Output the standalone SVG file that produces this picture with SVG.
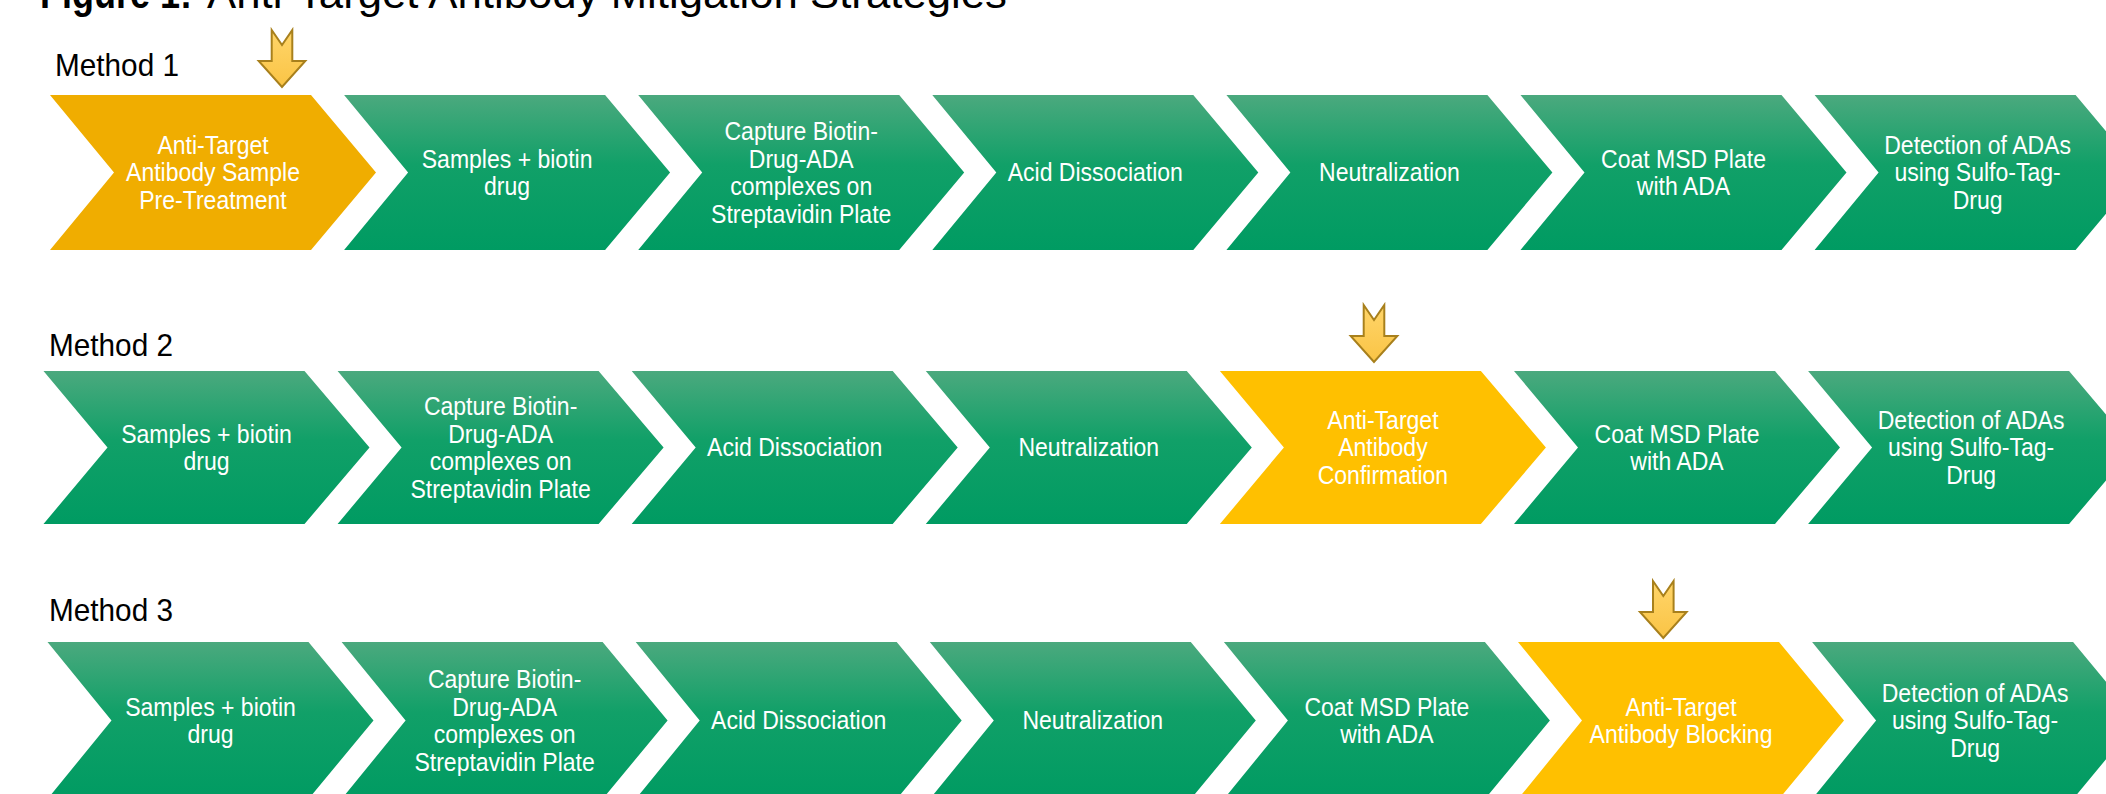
<svg xmlns="http://www.w3.org/2000/svg" xmlns:xlink="http://www.w3.org/1999/xlink" width="2106" height="794" viewBox="0 0 2106 794">
  <style>
    .title { font-family: "Liberation Sans", Arial, sans-serif; font-size: 43px; fill: #000; }
    .method { font-family: "Liberation Sans", Arial, sans-serif; font-size: 32px; fill: #000; }
    .lbl { font-family: "Liberation Sans", Arial, sans-serif; font-size: 26px; fill: #fff; text-anchor: middle; }
    .green { fill: url(#gGreen); }
    .amber { fill: #F0AD00; }
    .yellow { fill: #FFC000; }
    .ptr { fill: url(#gPtr); stroke: #A8801C; stroke-width: 2; stroke-linejoin: miter; }
  </style>
  <defs>
    <linearGradient id="gGreen" x1="0" y1="0" x2="0" y2="1">
      <stop offset="0" stop-color="#4BA97E"/>
      <stop offset="0.45" stop-color="#11A068"/>
      <stop offset="1" stop-color="#009B62"/>
    </linearGradient>
    <linearGradient id="gPtr" x1="0" y1="0" x2="0" y2="1">
      <stop offset="0" stop-color="#FFD56A"/>
      <stop offset="1" stop-color="#FAC445"/>
    </linearGradient>
    <!-- chevron outlines, one per row height -->
    <path id="chevA" d="M0,0 L261,0 L326,77.5 L261,155 L0,155 L64,77.5 Z"/>
    <path id="chevB" d="M0,0 L261,0 L326,76.5 L261,153 L0,153 L64,76.5 Z"/>
    <path id="chevC" d="M0,0 L261,0 L326,78.5 L261,157 L0,157 L64,78.5 Z"/>
    <!-- downward pointer with notched tail -->
    <path id="ptr" d="M-10.3,0 L0,15 L10.3,0 L10.3,31 L23.3,31 L0,57 L-23.3,31 L-10.3,31 Z"/>
  </defs>

  <rect width="2106" height="794" fill="#fff"/>

  <text class="title" x="40" y="8" font-weight="bold" textLength="152" lengthAdjust="spacingAndGlyphs">Figure 1:</text>
  <text class="title" x="207" y="8" textLength="800" lengthAdjust="spacingAndGlyphs">Anti-Target Antibody Mitigation Strategies</text>

  <text class="method" x="55" y="76" textLength="124" lengthAdjust="spacingAndGlyphs">Method 1</text>
  <text class="method" x="49" y="356" textLength="124" lengthAdjust="spacingAndGlyphs">Method 2</text>
  <text class="method" x="49" y="621" textLength="124" lengthAdjust="spacingAndGlyphs">Method 3</text>

  <!-- Method 1 -->
  <g id="m1-pretreat">
    <use xlink:href="#chevA" class="amber" x="50" y="95"/>
    <text class="lbl" transform="translate(213 0) scale(0.885 1)"><tspan x="0" y="154">Anti-Target</tspan><tspan x="0" y="181.5">Antibody Sample</tspan><tspan x="0" y="209">Pre-Treatment</tspan></text>
  </g>
  <g id="m1-samples">
    <use xlink:href="#chevA" class="green" x="344.1" y="95"/>
    <text class="lbl" transform="translate(507.1 0) scale(0.885 1)"><tspan x="0" y="167.75">Samples + biotin</tspan><tspan x="0" y="195.25">drug</tspan></text>
  </g>
  <g id="m1-capture">
    <use xlink:href="#chevA" class="green" x="638.2" y="95"/>
    <text class="lbl" transform="translate(801.2 0) scale(0.885 1)"><tspan x="0" y="140.25">Capture Biotin-</tspan><tspan x="0" y="167.75">Drug-ADA</tspan><tspan x="0" y="195.25">complexes on</tspan><tspan x="0" y="222.75">Streptavidin Plate</tspan></text>
  </g>
  <g id="m1-acid">
    <use xlink:href="#chevA" class="green" x="932.3" y="95"/>
    <text class="lbl" transform="translate(1095.3 0) scale(0.885 1)" x="0" y="181.5">Acid Dissociation</text>
  </g>
  <g id="m1-neutral">
    <use xlink:href="#chevA" class="green" x="1226.4" y="95"/>
    <text class="lbl" transform="translate(1389.4 0) scale(0.885 1)" x="0" y="181.5">Neutralization</text>
  </g>
  <g id="m1-coat">
    <use xlink:href="#chevA" class="green" x="1520.5" y="95"/>
    <text class="lbl" transform="translate(1683.5 0) scale(0.885 1)"><tspan x="0" y="167.75">Coat MSD Plate</tspan><tspan x="0" y="195.25">with ADA</tspan></text>
  </g>
  <g id="m1-detect">
    <use xlink:href="#chevA" class="green" x="1814.6" y="95"/>
    <text class="lbl" transform="translate(1977.6 0) scale(0.885 1)"><tspan x="0" y="154">Detection of ADAs</tspan><tspan x="0" y="181.5">using Sulfo-Tag-</tspan><tspan x="0" y="209">Drug</tspan></text>
  </g>

  <!-- Method 2 -->
  <g id="m2-samples">
    <use xlink:href="#chevB" class="green" x="43.5" y="371"/>
    <text class="lbl" transform="translate(206.5 0) scale(0.885 1)"><tspan x="0" y="442.75">Samples + biotin</tspan><tspan x="0" y="470.25">drug</tspan></text>
  </g>
  <g id="m2-capture">
    <use xlink:href="#chevB" class="green" x="337.6" y="371"/>
    <text class="lbl" transform="translate(500.6 0) scale(0.885 1)"><tspan x="0" y="415.25">Capture Biotin-</tspan><tspan x="0" y="442.75">Drug-ADA</tspan><tspan x="0" y="470.25">complexes on</tspan><tspan x="0" y="497.75">Streptavidin Plate</tspan></text>
  </g>
  <g id="m2-acid">
    <use xlink:href="#chevB" class="green" x="631.7" y="371"/>
    <text class="lbl" transform="translate(794.7 0) scale(0.885 1)" x="0" y="456.5">Acid Dissociation</text>
  </g>
  <g id="m2-neutral">
    <use xlink:href="#chevB" class="green" x="925.8" y="371"/>
    <text class="lbl" transform="translate(1088.8 0) scale(0.885 1)" x="0" y="456.5">Neutralization</text>
  </g>
  <g id="m2-confirm">
    <use xlink:href="#chevB" class="yellow" x="1219.9" y="371"/>
    <text class="lbl" transform="translate(1382.9 0) scale(0.885 1)"><tspan x="0" y="429">Anti-Target</tspan><tspan x="0" y="456.5">Antibody</tspan><tspan x="0" y="484">Confirmation</tspan></text>
  </g>
  <g id="m2-coat">
    <use xlink:href="#chevB" class="green" x="1514" y="371"/>
    <text class="lbl" transform="translate(1677 0) scale(0.885 1)"><tspan x="0" y="442.75">Coat MSD Plate</tspan><tspan x="0" y="470.25">with ADA</tspan></text>
  </g>
  <g id="m2-detect">
    <use xlink:href="#chevB" class="green" x="1808.1" y="371"/>
    <text class="lbl" transform="translate(1971.1 0) scale(0.885 1)"><tspan x="0" y="429">Detection of ADAs</tspan><tspan x="0" y="456.5">using Sulfo-Tag-</tspan><tspan x="0" y="484">Drug</tspan></text>
  </g>

  <!-- Method 3 -->
  <g id="m3-samples">
    <use xlink:href="#chevC" class="green" x="47.5" y="642"/>
    <text class="lbl" transform="translate(210.5 0) scale(0.885 1)"><tspan x="0" y="715.75">Samples + biotin</tspan><tspan x="0" y="743.25">drug</tspan></text>
  </g>
  <g id="m3-capture">
    <use xlink:href="#chevC" class="green" x="341.6" y="642"/>
    <text class="lbl" transform="translate(504.6 0) scale(0.885 1)"><tspan x="0" y="688.25">Capture Biotin-</tspan><tspan x="0" y="715.75">Drug-ADA</tspan><tspan x="0" y="743.25">complexes on</tspan><tspan x="0" y="770.75">Streptavidin Plate</tspan></text>
  </g>
  <g id="m3-acid">
    <use xlink:href="#chevC" class="green" x="635.7" y="642"/>
    <text class="lbl" transform="translate(798.7 0) scale(0.885 1)" x="0" y="729.5">Acid Dissociation</text>
  </g>
  <g id="m3-neutral">
    <use xlink:href="#chevC" class="green" x="929.8" y="642"/>
    <text class="lbl" transform="translate(1092.8 0) scale(0.885 1)" x="0" y="729.5">Neutralization</text>
  </g>
  <g id="m3-coat">
    <use xlink:href="#chevC" class="green" x="1223.9" y="642"/>
    <text class="lbl" transform="translate(1386.9 0) scale(0.885 1)"><tspan x="0" y="715.75">Coat MSD Plate</tspan><tspan x="0" y="743.25">with ADA</tspan></text>
  </g>
  <g id="m3-blocking">
    <use xlink:href="#chevC" class="yellow" x="1518" y="642"/>
    <text class="lbl" transform="translate(1681 0) scale(0.885 1)"><tspan x="0" y="715.75">Anti-Target</tspan><tspan x="0" y="743.25">Antibody Blocking</tspan></text>
  </g>
  <g id="m3-detect">
    <use xlink:href="#chevC" class="green" x="1812.1" y="642"/>
    <text class="lbl" transform="translate(1975.1 0) scale(0.885 1)"><tspan x="0" y="702">Detection of ADAs</tspan><tspan x="0" y="729.5">using Sulfo-Tag-</tspan><tspan x="0" y="757">Drug</tspan></text>
  </g>

  <!-- step pointers -->
  <g id="pointers">
    <use xlink:href="#ptr" class="ptr" x="282" y="30"/>
    <use xlink:href="#ptr" class="ptr" x="1374" y="305"/>
    <use xlink:href="#ptr" class="ptr" x="1663.3" y="581"/>
  </g>
</svg>
